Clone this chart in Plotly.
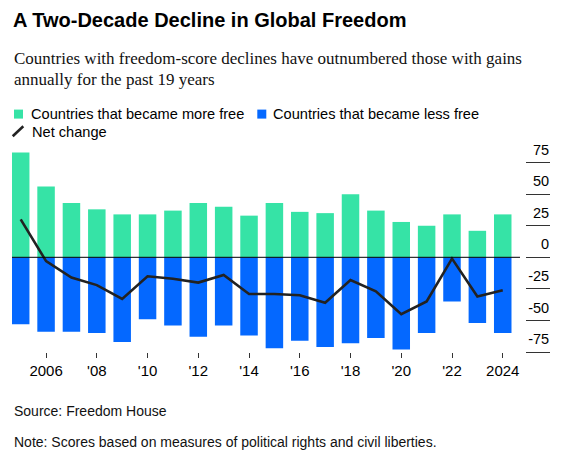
import plotly.graph_objects as go

# countries per year (Freedom House)
years = list(range(2005, 2025))
more_free = [83, 56, 43, 38, 34, 34, 37, 43, 40, 33, 43, 36, 35, 50, 37, 28, 25, 34, 21, 34]
less_free = [-53, -59, -59, -60, -67, -49, -54, -63, -54, -62, -72, -66, -71, -68, -64, -73, -60, -35, -52, -60]
net_change = [30, -3, -16, -22, -33, -15, -17, -20, -14, -29, -29, -30, -36, -18, -27, -45, -35, -1, -31, -26]

x_tick_vals = [2006, 2008, 2010, 2012, 2014, 2016, 2018, 2020, 2022, 2024]
x_tick_text = ["2006", "'08", "'10", "'12", "'14", "'16", "'18", "'20", "'22", "2024"]
y_tick_vals = [75, 50, 25, 0, -25, -50, -75]
y_tick_text = ["75", "50", "25", "0", "-25", "-50", "-75"]

GREEN = "#36E3A6"
BLUE = "#0468FF"
DARK = "#222222"
SANS = "Liberation Sans, Arial, sans-serif"
SERIF = "Liberation Serif, Times New Roman, serif"

# page body adds an 8px margin, so the figure is a bit smaller than the window
OFF = 8
W, H = 566, 457
L, R, T, B = 12, 550, 149.7, 351.7


def px(x):
    return (x - L) / (R - L)


def py(y):
    return (B - y) / (B - T)


fig = go.Figure()
fig.add_trace(go.Bar(x=years, y=more_free, name="Countries that became more free",
                     marker=dict(color=GREEN, line=dict(width=0))))
fig.add_trace(go.Bar(x=years, y=less_free, name="Countries that became less free",
                     marker=dict(color=BLUE, line=dict(width=0))))
fig.add_trace(go.Scatter(x=years, y=net_change, mode="lines", name="Net change",
                         line=dict(color=DARK, width=2.6)))

annotations = [
    dict(text="<b>A Two-Decade Decline in Global Freedom</b>", x=px(11), y=py(20),
         font=dict(family=SANS, size=20, color="#000")),
    dict(text="Countries with freedom-score declines have outnumbered those with gains",
         x=px(11.5), y=py(58.5), font=dict(family=SERIF, size=17, color="#111")),
    dict(text="annually for the past 19 years", x=px(11.5), y=py(79),
         font=dict(family=SERIF, size=17, color="#111")),
    dict(text="Countries that became more free", x=px(28.5), y=py(113.5),
         font=dict(family=SANS, size=14.6, color="#000")),
    dict(text="Countries that became less free", x=px(271), y=py(113.5),
         font=dict(family=SANS, size=14.6, color="#000")),
    dict(text="Net change", x=px(30), y=py(131.5),
         font=dict(family=SANS, size=14.6, color="#000")),
    dict(text="Source: Freedom House", x=px(11.5), y=py(411),
         font=dict(family=SANS, size=14, color="#111")),
    dict(text="Note: Scores based on measures of political rights and civil liberties.",
         x=px(11.5), y=py(442), font=dict(family=SANS, size=14, color="#111")),
]
for a in annotations:
    a.update(xref="paper", yref="paper", xanchor="left", yanchor="middle",
             showarrow=False)

shapes = [
    # legend keys
    dict(type="rect", x0=px(14), x1=px(23), y0=py(109.3), y1=py(118.3),
         fillcolor=GREEN, line=dict(width=0)),
    dict(type="rect", x0=px(257.3), x1=px(266.3), y0=py(109.3), y1=py(118.3),
         fillcolor=BLUE, line=dict(width=0)),
    dict(type="line", x0=px(12.7), x1=px(23.3), y0=py(136), y1=py(126),
         line=dict(color=DARK, width=2.6)),
    # zero line
    dict(type="line", xref="paper", yref="y", x0=0, x1=px(520), y0=0, y1=0,
         line=dict(color="#000", width=1), layer="above"),
]
for s in shapes[:3]:
    s.update(xref="paper", yref="paper")

fig.update_layout(
    width=W - OFF, height=H - OFF,
    margin=dict(l=L - OFF, r=W - R, t=T - OFF, b=H - B, pad=0),
    paper_bgcolor="white", plot_bgcolor="white",
    barmode="relative", bargap=0.31,
    showlegend=False,
    annotations=annotations,
    shapes=shapes,
    xaxis=dict(range=[2004.657, 2025.863], tickvals=x_tick_vals, ticktext=x_tick_text,
               ticks="outside", ticklen=5, tickwidth=1, tickcolor="#333",
               showgrid=False, zeroline=False, showline=False,
               tickfont=dict(family=SANS, size=15, color="#000"),
               automargin=False, fixedrange=True),
    yaxis=dict(range=[-75, 85], anchor="free", position=1, side="left",
               tickvals=y_tick_vals, ticktext=y_tick_text,
               ticks="outside", ticklen=24, tickwidth=1, tickcolor="#333",
               ticklabelstandoff=-26, ticklabelshift=-13,
               showgrid=False, zeroline=False, showline=False,
               tickfont=dict(family=SANS, size=14.5, color="#000"),
               automargin=False, fixedrange=True),
)

fig.write_html("out.html")
